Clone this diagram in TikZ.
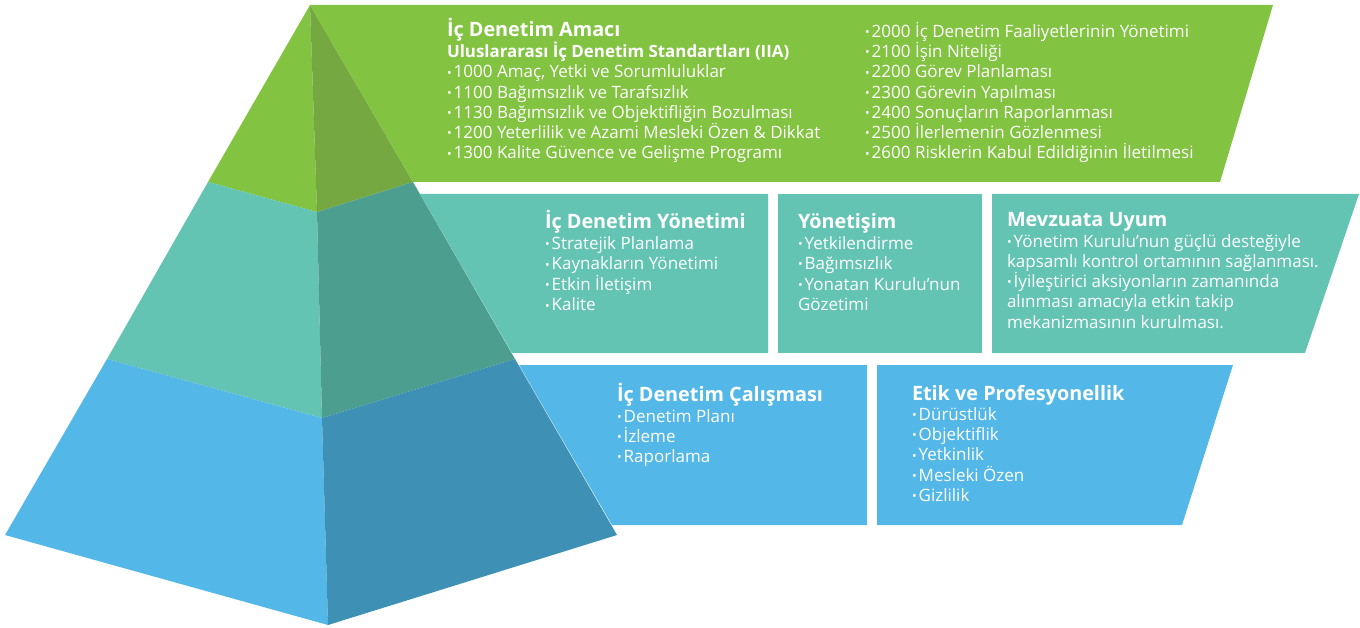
\documentclass[tikz,border=0pt]{standalone}
\usepackage{fontspec}
\setmainfont{Open Sans}
\definecolor{gL}{HTML}{82C341}
\definecolor{gD}{HTML}{76A842}
\definecolor{tL}{HTML}{64C4B3}
\definecolor{tD}{HTML}{4C9E8F}
\definecolor{bL}{HTML}{53B8E8}
\definecolor{bD}{HTML}{3E91B4}
\newcommand\bul{{\fontsize{12.5}{12}\selectfont\raisebox{0.06em}{•}}\hspace{2pt}}
\newcommand\ttl[1]{{\bfseries\fontsize{19.8}{20}\selectfont #1}}
\tikzset{
  txt/.style={anchor=base west, inner sep=0pt, outer sep=0pt, align=left, text=white},
}
\begin{document}
\begin{tikzpicture}[x=1pt,y=-1pt]
\useasboundingbox (0,0) rectangle (1360,628);
% pyramid
\fill[gL] (310,5) -- (208,182) -- (317,212) -- cycle;
\fill[gD] (310,5) -- (317,212) -- (413,182) -- cycle;
\fill[tL] (208,182) -- (317,212) -- (322,418) -- (107,359) -- cycle;
\fill[tD] (317,212) -- (413,182) -- (515,359) -- (322,418) -- cycle;
\fill[bL] (107,359) -- (322,418) -- (328,625) -- (5,535) -- cycle;
\fill[bD] (322,418) -- (515,359) -- (617,535) -- (328,625) -- cycle;
% boxes
\fill[gL] (310,5) -- (1273,5) -- (1220,182) -- (413,182) -- cycle;
\fill[tL] (420,194) -- (768,194) -- (768,353) -- (512,353) -- cycle;
\fill[tL] (778,194) -- (982,194) -- (982,353) -- (778,353) -- cycle;
\fill[tL] (992,194) -- (1359,194) -- (1305,353) -- (992,353) -- cycle;
\fill[bL] (519,365) -- (867,365) -- (867,525) -- (612,525) -- cycle;
\fill[bL] (877,365) -- (1233,365) -- (1182,525) -- (877,525) -- cycle;
% texts (anchor = baseline of the last line)
\node[txt, font=\fontsize{17}{20.25}\selectfont] (amac) at (447,159) {\ttl{İç Denetim Amacı}\\
{\bfseries\fontsize{16.9}{20}\selectfont Uluslararası İç Denetim Standartları (IIA)}\\
\bul 1000 Amaç, Yetki ve Sorumluluklar\\
\bul 1100 Bağımsızlık ve Tarafsızlık\\
\bul 1130 Bağımsızlık ve Objektifliğin Bozulması\\
\bul 1200 Yeterlilik ve Azami Mesleki Özen \& Dikkat\\
\bul 1300 Kalite Güvence ve Gelişme Programı};
\node[txt, font=\fontsize{17}{20.25}\selectfont] (std) at (865,159) {\bul 2000 İç Denetim Faaliyetlerinin Yönetimi\\
\bul 2100 İşin Niteliği\\
\bul 2200 Görev Planlaması\\
\bul 2300 Görevin Yapılması\\
\bul 2400 Sonuçların Raporlanması\\
\bul 2500 İlerlemenin Gözlenmesi\\
\bul 2600 Risklerin Kabul Edildiğinin İletilmesi};
\node[txt, font=\fontsize{17}{20.5}\selectfont] (yon) at (545,311) {\ttl{İç Denetim Yönetimi}\\
\bul Stratejik Planlama\\
\bul Kaynakların Yönetimi\\
\bul Etkin İletişim\\
\bul Kalite};
\node[txt, font=\fontsize{17}{20.5}\selectfont] (yonet) at (798,310.5) {\ttl{Yönetişim}\\
\bul Yetkilendirme\\
\bul Bağımsızlık\\
\bul Yonatan Kurulu’nun\\
Gözetimi};
\node[txt, font=\fontsize{17}{20.2}\selectfont] (mevz) at (1007,328) {\ttl{Mevzuata Uyum}\\
\bul Yönetim Kurulu’nun güçlü desteğiyle\\
kapsamlı kontrol ortamının sağlanması.\\
\bul İyileştirici aksiyonların zamanında\\
alınması amacıyla etkin takip\\
mekanizmasının kurulması.};
\node[txt, font=\fontsize{17}{20.3}\selectfont] (cal) at (617,462.6) {\ttl{İç Denetim Çalışması}\\
\bul Denetim Planı\\
\bul İzleme\\
\bul Raporlama};
\node[txt, font=\fontsize{17}{20.3}\selectfont] (etik) at (912,501.5) {\ttl{Etik ve Profesyonellik}\\
\bul Dürüstlük\\
\bul Objektiflik\\
\bul Yetkinlik\\
\bul Mesleki Özen\\
\bul Gizlilik};
\end{tikzpicture}
\end{document}
